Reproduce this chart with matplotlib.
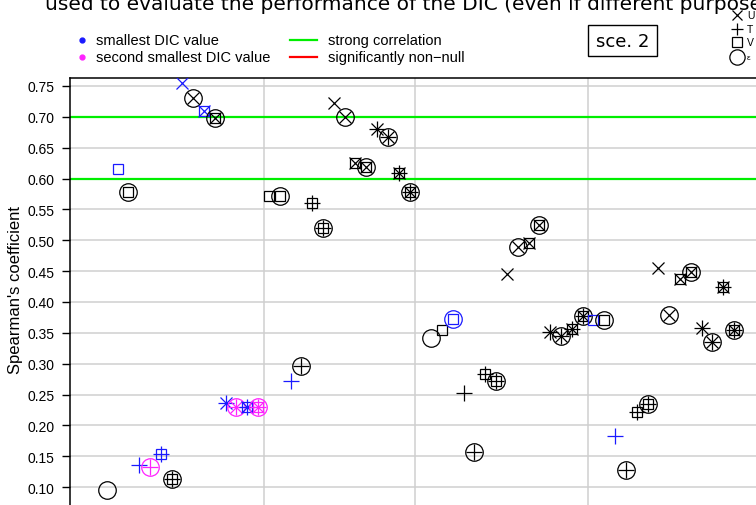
import numpy as np
import matplotlib.pyplot as plt
from matplotlib.lines import Line2D

# model order inside each block of the x axis
models = ['e', 'V', 'Ve', 'T', 'Te', 'TV', 'TVe', 'U', 'Ue', 'UV', 'UVe', 'UT', 'UTe', 'UTV', 'UTVe']

# first slot of each block (blocks 2 and 4 have no visible "e" model)
block_start = [0, 14, 30, 44]

# Spearman's coefficient per model, None = not visible
block1 = [0.096, 0.615, 0.579, 0.136, 0.132, 0.154, 0.113, 0.755, 0.731, 0.709, 0.698, 0.237, 0.229, 0.229, 0.230]
block2 = [None, 0.571, 0.571, 0.272, 0.297, 0.561, 0.520, 0.723, 0.700, 0.625, 0.619, 0.680, 0.667, 0.609, 0.579]
block3 = [0.342, 0.355, 0.372, 0.252, 0.157, 0.283, 0.272, 0.446, 0.489, 0.495, 0.524, 0.351, 0.345, 0.356, 0.378]
block4 = [None, 0.371, 0.370, 0.182, 0.128, 0.222, 0.235, 0.455, 0.379, 0.438, 0.449, 0.358, 0.335, 0.425, 0.355]

# k = black, b = smallest DIC, m = second smallest DIC
col1 = ['k', 'b', 'k', 'b', 'm', 'b', 'k', 'b', 'k', 'b', 'k', 'b', 'm', 'b', 'm']
col2 = ['k', 'k', 'k', 'b', 'k', 'k', 'k', 'k', 'k', 'k', 'k', 'k', 'k', 'k', 'k']
col3 = ['k', 'k', 'b', 'k', 'k', 'k', 'k', 'k', 'k', 'k', 'k', 'k', 'k', 'k', 'k']
col4 = ['k', 'b', 'k', 'b', 'k', 'k', 'k', 'k', 'k', 'k', 'k', 'k', 'k', 'k', 'k']

separators = [14.5, 28.5, 44.5]
yticks = np.arange(0.10, 0.76, 0.05)
strong = [0.6, 0.7]

colours = {'k': 'black', 'b': '#1a1aff', 'm': '#ff22ff'}
# one marker per effect, stacked to build the combined symbol
parts = {'U': ('x', 8.0), 'T': ('+', 11.0), 'V': ('s', 7.6), 'e': ('o', 12.6)}
key_sizes = {'U': 7.0, 'T': 9.0, 'V': 7.0, 'e': 11.0}

plt.rcParams['font.family'] = ['Liberation Sans', 'DejaVu Sans']

fig = plt.figure(figsize=(7.56, 5.06), dpi=100)
W, H = 756.0, 506.0

# plot region: left edge at 70px, top at 79px, runs off the bottom/right
ax = fig.add_axes([70 / W, 1 - 540 / H, (800 - 70) / W, (540 - 79) / H])
px_per_slot = 10.816
x_left = (70 - 106.7) / px_per_slot
x_right = (800 - 106.7) / px_per_slot
per_unit = 30.85 / 0.05
ax.set_xlim(x_left, x_right)
ax.set_ylim(0.75 - (540 - 87) / per_unit, 0.75 + (87 - 79) / per_unit)

for t in yticks:
    ax.axhline(t, color='#cfcfcf', lw=1.1, zorder=0)
for s in separators:
    ax.axvline(s, color='#cfcfcf', lw=1.1, zorder=0)
for s in strong:
    ax.axhline(s, color='#00ee00', lw=1.6, zorder=1)

for start, vals, cols in zip(block_start, [block1, block2, block3, block4],
                             [col1, col2, col3, col4]):
    for i, (m, v, c) in enumerate(zip(models, vals, cols)):
        if v is None:
            continue
        for key in ['U', 'T', 'V', 'e']:
            if key in m:
                mk, ms = parts[key]
                ax.plot(start + i, v, marker=mk, ms=ms, mfc='none', mec=colours[c],
                        mew=0.9, ls='none', zorder=3)

ax.set_yticks(yticks)
ax.set_yticklabels(['%.2f' % t for t in yticks], fontsize=10)
ax.set_xticks([])
ax.tick_params(axis='y', direction='out', length=6, width=1, pad=5)
for side in ['right', 'bottom']:
    ax.spines[side].set_visible(False)
for side in ['left', 'top']:
    ax.spines[side].set_linewidth(1.1)

fig.text(16 / W, 1 - 290 / H, "Spearman's coefficient", rotation=90,
         ha='center', va='center', fontsize=12)

# overlay in pixel coordinates for legends and header text
ov = fig.add_axes([0, 0, 1, 1], zorder=5)
ov.set_xlim(0, W)
ov.set_ylim(H, 0)
ov.axis('off')

ov.plot(82, 41, 'o', ms=3.5, color='#1a1aff')
ov.text(96, 41, 'smallest DIC value', va='center', fontsize=10.5)
ov.plot(82, 58, 'o', ms=3.5, color='#ff22ff')
ov.text(96, 58, 'second smallest DIC value', va='center', fontsize=10.5)
ov.add_line(Line2D([290, 317], [41, 41], color='#00ee00', lw=1.6))
ov.text(328, 41, 'strong correlation', va='center', fontsize=10.5)
ov.add_line(Line2D([290, 317], [58, 58], color='red', lw=1.6))
ov.text(328, 58, 'significantly non\u2212null', va='center', fontsize=10.5)

ov.add_patch(plt.Rectangle((588, 26), 69, 31, fill=False, ec='black', lw=1.0))
ov.text(622.5, 41.5, 'sce. 2', ha='center', va='center', fontsize=13,
        family='DejaVu Sans')

for k, (key, lab) in enumerate(zip(['U', 'T', 'V', 'e'], ['U', 'T', 'V', '\u03b5'])):
    mk = parts[key][0]
    yy = [16, 29.5, 43, 58][k]
    ov.plot(737, yy, marker=mk, ms=key_sizes[key], mfc='none', mec='black', mew=0.9)
    ov.text(747, yy, lab, va='center', fontsize=7.5 if key != 'e' else 6)

fig.text(45 / W, 1 - 10 / H, 'used to evaluate the performance of the DIC (even if different purposes',
         fontsize=14.5, family='DejaVu Sans', va='baseline')

fig.savefig('out.png', dpi=100)
